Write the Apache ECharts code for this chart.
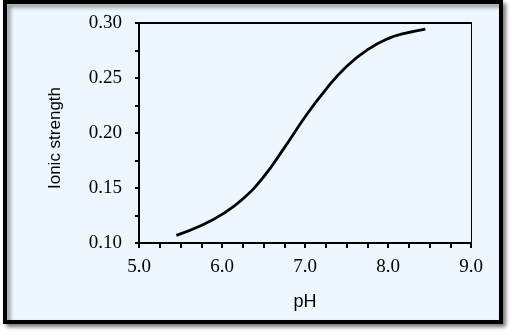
<!DOCTYPE html>
<html>
<head>
<meta charset="utf-8">
<script src="https://cdn.jsdelivr.net/npm/echarts@6/dist/echarts.min.js"></script>
<style>html,body{margin:0;padding:0;background:#fff;}#c{width:512px;height:336px;}</style>
</head>
<body>
<div id="c"></div>
<script>
var pH = [5.45, 5.75, 6.0, 6.25, 6.5, 6.75, 7.0, 7.25, 7.5, 7.75, 8.0, 8.2, 8.45];
var ionicStrength = [0.107, 0.116, 0.126, 0.140, 0.160, 0.1865, 0.2145, 0.2395, 0.2605, 0.2755, 0.2858, 0.2905, 0.2945];
var xTitle = 'pH';
var yTitle = 'Ionic strength';

var chart = echarts.init(document.getElementById('c'));
var serif = 'Liberation Serif';
chart.setOption({
  animation: false,
  graphic: [
    {type: 'rect', z: -10, shape: {x: 5, y: 2, width: 496, height: 320},
     style: {fill: '#EDF7FD', stroke: '#000', lineWidth: 4, shadowBlur: 4, shadowOffsetX: 3, shadowOffsetY: 3, shadowColor: 'rgba(0,0,0,0.45)'}},
    {type: 'text', x: 55, y: 138, rotation: Math.PI / 2,
     style: {text: yTitle, font: '17px "Liberation Sans"', fill: '#000', align: 'center', verticalAlign: 'middle'}},
    {type: 'text', x: 305, y: 302,
     style: {text: xTitle, font: '18px "Liberation Sans"', fill: '#000', align: 'center', verticalAlign: 'middle'}}
  ],
  grid: {left: 139, top: 23, right: 41, bottom: 93, show: false},
  xAxis: [{
    type: 'value', min: 5, max: 9, interval: 0.25,
    axisLine: {show: true, lineStyle: {color: '#000', width: 2}},
    axisTick: {show: true, length: 5, lineStyle: {color: '#000', width: 2}},
    splitLine: {show: false},
    axisLabel: {margin: 15, fontFamily: serif, fontSize: 19, color: '#000',
      formatter: function (v) { return Math.abs(v - Math.round(v)) < 1e-6 ? v.toFixed(1) : ''; }}
  }, {
    type: 'value', position: 'top', min: 5, max: 9,
    axisLine: {show: true, lineStyle: {color: '#000', width: 2}},
    axisTick: {show: false}, axisLabel: {show: false}, splitLine: {show: false}
  }],
  yAxis: [{
    type: 'value', min: 0.1, max: 0.3, interval: 0.025,
    axisLine: {show: true, lineStyle: {color: '#000', width: 2}},
    axisTick: {show: true, length: 4, lineStyle: {color: '#000', width: 2}},
    splitLine: {show: false},
    axisLabel: {margin: 17, fontFamily: serif, fontSize: 19, color: '#000',
      formatter: function (v) { return Math.abs(v * 20 - Math.round(v * 20)) < 1e-6 ? v.toFixed(2) : ''; }}
  }, {
    type: 'value', position: 'right', min: 0.1, max: 0.3,
    axisLine: {show: true, lineStyle: {color: '#000', width: 1}},
    axisTick: {show: false}, axisLabel: {show: false}, splitLine: {show: false}
  }],
  series: [{
    type: 'line', smooth: 0.5, symbol: 'none',
    lineStyle: {color: '#000', width: 2.8},
    data: pH.map(function (x, i) { return [x, ionicStrength[i]]; })
  }]
});
</script>
</body>
</html>
